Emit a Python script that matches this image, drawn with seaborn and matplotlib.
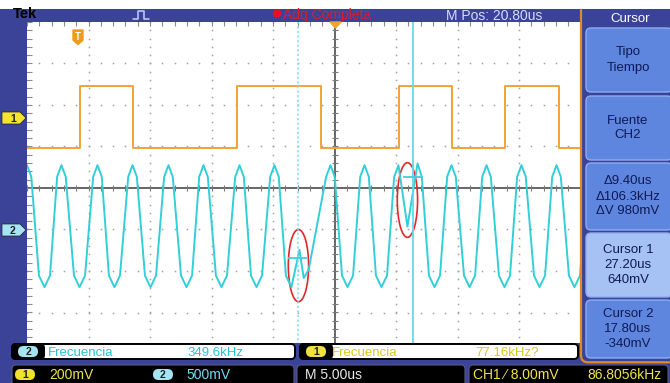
import numpy as np
import pandas as pd
import matplotlib
matplotlib.use("Agg")
import matplotlib.pyplot as plt
import seaborn as sns
from matplotlib.patches import Rectangle, FancyBboxPatch, Ellipse, Polygon, Circle

# ---------------- values ----------------
# CH2 (500 mV/div) trace, read point by point (time in us, volts)
ch2_time_us = [
    -4.20, -3.85,
    -3.23, -2.78, -2.33,
    -1.75, -1.40, -1.05,
    -0.38, 0.07, 0.52,
    1.18, 1.53, 1.88,
    2.46, 2.91, 3.36,
    4.03, 4.38, 4.73,
    5.39, 5.84, 6.29,
    6.95, 7.30, 7.65,
    8.32, 8.77, 9.22,
    9.80, 10.15, 10.50,
    11.16, 11.61, 12.06,
    12.73, 13.08, 13.43,
    14.01, 14.46, 14.91,
    15.57, 15.92, 16.27,
    16.85, 17.30, 17.95, 18.30, 18.70,
    20.12, 20.47, 20.82,
    21.41, 21.86, 22.31,
    22.89, 23.24, 23.59,
    24.17, 24.62, 25.07,
    25.65, 26.00, 26.73, 27.55, 27.90,
    28.48, 28.93, 29.38,
    29.96, 30.31, 30.66,
    31.33, 31.78, 32.23,
    32.81, 33.16, 33.51,
    34.17, 34.62, 35.07,
    35.65, 36.00, 36.35,
    37.02, 37.47, 37.92,
    38.50, 38.85, 39.20,
    39.86, 40.31, 40.76,
    41.35, 41.70, 42.05,
    42.65, 43.10, 43.55,
    44.15, 44.50, 44.85,
    45.80,
]
ch2_volts = [
    0.78, 0.64,
    -0.55, -0.69, -0.55,
    0.64, 0.78, 0.64,
    -0.55, -0.69, -0.55,
    0.64, 0.78, 0.64,
    -0.55, -0.69, -0.55,
    0.64, 0.78, 0.64,
    -0.55, -0.69, -0.55,
    0.64, 0.78, 0.64,
    -0.55, -0.69, -0.55,
    0.64, 0.78, 0.64,
    -0.55, -0.69, -0.55,
    0.64, 0.78, 0.64,
    -0.55, -0.69, -0.55,
    0.64, 0.78, 0.64,
    -0.55, -0.69, -0.24, -0.58, -0.48,
    0.64, 0.78, 0.64,
    -0.55, -0.69, -0.55,
    0.64, 0.78, 0.64,
    -0.55, -0.69, -0.55,
    0.64, 0.78, 0.04, 0.80, 0.64,
    -0.55, -0.69, -0.55,
    0.64, 0.78, 0.64,
    -0.55, -0.69, -0.55,
    0.64, 0.78, 0.64,
    -0.55, -0.69, -0.55,
    0.64, 0.78, 0.64,
    -0.55, -0.69, -0.55,
    0.64, 0.78, 0.64,
    -0.55, -0.69, -0.55,
    0.64, 0.78, 0.64,
    -0.55, -0.69, -0.55,
    0.64, 0.78, 0.64,
    -0.40,
]

# CH1 (200 mV/div) square wave: edge times (us) and level after each edge (mV)
ch1_time_us = [-4.20, 0.07, 4.38, 12.91, 19.74, 26.08, 30.39, 34.70, 39.09, 45.80]
ch1_mv = [-145, 154, -145, 154, -145, 154, -145, 154, -145, -145]

# cursors (CH2)
cursor_names = ["Cursor 1", "Cursor 2"]
cursor_time_us = [27.20, 17.80]
cursor_volts = [0.640, -0.340]

# readouts / labels
time_per_div_us = 5.0
m_pos_us = 20.80
ch1_scale_mv = 200
ch2_scale_mv = 500
ch1_offset_div = 1.69
ch2_offset_div = -1.01
meas_ch2 = "349.6kHz"
meas_ch1 = "77.16kHz?"
trig_text = "CH1 \u2044 8.00mV"
trig_freq = "86.8056kHz"
menu_header = "Cursor"
menu_items = [["Tipo", "Tiempo"], ["Fuente", "CH2"],
              ["\u03949.40us", "\u0394106.3kHz", "\u0394V 980mV"],
              ["Cursor 1", "27.20us", "640mV"], ["Cursor 2", "17.80us", "-340mV"]]

# ---------------- styling ----------------
sns.set_style("white")
plt.rcParams['font.family'] = ['Liberation Sans', 'DejaVu Sans']

W, H = 670, 383
fig = plt.figure(figsize=(W / 100, H / 100), dpi=100)
fig.patch.set_facecolor('white')

# graticule area in pixels: x 27..642, y 22..354
L, T, R, B = 27, 22, 642, 354
rect = [L / W, 1 - B / H, (R - L) / W, (B - T) / H]

BLUE = '#3b4398'
CYAN = '#33cfd8'
ORANGE = '#f2a333'
GRID = '#a0a0a0'

# --- graticule axes (divisions) ---
ax_g = fig.add_axes(rect)
ax_g.set_xlim(0, 10)
ax_g.set_ylim(-4, 4)
ax_g.axis('off')
fx = np.arange(0, 10.001, 0.2)
fy = np.arange(-4, 4.001, 0.2)
for gx in range(1, 10):
    if gx == 5:
        continue
    ax_g.plot(np.full_like(fy, gx), fy, ls='none', marker='s', ms=1.1, mew=0, color=GRID)
for gy in range(-3, 4):
    if gy == 0:
        continue
    ax_g.plot(fx, np.full_like(fx, gy), ls='none', marker='s', ms=1.1, mew=0, color=GRID)
ax_g.axvline(5, color='#5a5a5a', lw=1.3)
ax_g.axhline(0, color='#5a5a5a', lw=1.3)
ax_g.plot(np.full_like(fy, 5), fy, ls='none', marker='_', ms=5, mew=0.8, color='#7a7a7a')
ax_g.plot(fx, np.zeros_like(fx), ls='none', marker='|', ms=5, mew=0.8, color='#7a7a7a')
ax_g.plot(fx, np.full_like(fx, 3.97), ls='none', marker='|', ms=4, mew=0.8, color='#8a8a8a')
ax_g.plot(np.full_like(fy, 0.03), fy, ls='none', marker='_', ms=4, mew=0.8, color='#8a8a8a')

t0 = m_pos_us - 5 * time_per_div_us
t1 = m_pos_us + 5 * time_per_div_us

# --- CH1 axis ---
ax1 = fig.add_axes(rect)
ax1.patch.set_alpha(0)
df1 = pd.DataFrame({'t': ch1_time_us, 'v': ch1_mv})
sns.lineplot(data=df1, x='t', y='v', ax=ax1, estimator=None, sort=False,
             drawstyle='steps-post', color=ORANGE, lw=1.4)
ax1.set_xlim(t0, t1)
ax1.set_ylim((-4 - ch1_offset_div) * ch1_scale_mv, (4 - ch1_offset_div) * ch1_scale_mv)
ax1.axis('off')

# --- CH2 axis ---
ax2 = fig.add_axes(rect)
ax2.patch.set_alpha(0)
df2 = pd.DataFrame({'t': ch2_time_us, 'v': ch2_volts})
sns.lineplot(data=df2, x='t', y='v', ax=ax2, estimator=None, sort=False,
             color=CYAN, lw=1.4)
ax2.set_xlim(t0, t1)
s2 = ch2_scale_mv / 1000
ax2.set_ylim((-4 - ch2_offset_div) * s2, (4 - ch2_offset_div) * s2)
ax2.axis('off')

# cursors
ax2.axvline(cursor_time_us[0], color='#5fdcea', lw=1.3)
ax2.axvline(cursor_time_us[1], color='#7fe0ee', lw=1.1, ls=(0, (1.5, 1.5)))
for ct, cv in zip(cursor_time_us, cursor_volts):
    ax2.hlines(cv, ct - 0.8, ct + 0.8, color='#40d0dc', lw=1.3)
# red ellipses around the glitches
ax2.add_patch(Ellipse((17.87, -0.43), 1.65, 0.87, fill=False, ec='#e02828', lw=1.2))
ax2.add_patch(Ellipse((26.73, 0.36), 1.65, 0.90, fill=False, ec='#e02828', lw=1.2))

# --- overlay in pixel coordinates ---
ax_o = fig.add_axes([0, 0, 1, 1])
ax_o.set_zorder(10)
ax_o.patch.set_alpha(0)
ax_o.set_xlim(0, W)
ax_o.set_ylim(H, 0)
ax_o.axis('off')

# frame bars
ax_o.add_patch(Rectangle((0, 9), 581, 13, color=BLUE, lw=0))
ax_o.add_patch(Rectangle((0, 9), 27, 356, color=BLUE, lw=0))
ax_o.add_patch(Rectangle((0, 343), 670, 40, color=BLUE, lw=0))
ax_o.add_patch(Rectangle((581, 9), 89, 354, color=BLUE, lw=0))

ax_o.text(13, 14.5, "Tek", fontsize=10.5, fontweight='bold', color='black', va='center', ha='left')
ax_o.plot([133, 138, 138, 144, 144, 149], [19, 19, 11, 11, 19, 19], color='#c6ceff', lw=1.1)
ax_o.add_patch(Circle((277, 13.5), 3.6, color='#e8101e'))
ax_o.text(283, 15.5, "Adq Completa", fontsize=10, color='#e01a2a', va='center', ha='left')
ax_o.text(446, 15.5, "M Pos: %.2fus" % m_pos_us, fontsize=10, color='#d6dafc', va='center', ha='left')

# trigger markers
ax_o.add_patch(Polygon([(330, 22), (341, 22), (335.5, 28)], color=ORANGE))
ax_o.add_patch(Polygon([(73, 30), (83, 30), (83, 40), (78, 44.5), (73, 40)], color='#f09a1a'))
ax_o.text(78, 36.5, "T", fontsize=7, color='white', fontweight='bold', ha='center', va='center')

# channel markers on left border
for yc, col, lab in [(118, '#f4e430', '1'), (230, '#a6e4f4', '2')]:
    ax_o.add_patch(Polygon([(2, yc - 6), (20, yc - 6), (26, yc), (20, yc + 6), (2, yc + 6)],
                           closed=True, fc=col, ec='#202020', lw=0.5))
    ax_o.text(13, yc + 0.5, lab, fontsize=7.5, fontweight='bold', color='#202020', ha='center', va='center')

# right menu
ax_o.plot([581, 581], [10, 356], color='#e08a24', lw=1.6)
ax_o.plot([581, 581.8, 584, 587, 670], [356, 359.5, 361.5, 362.3, 362.3], color='#e08a24', lw=1.6)
ax_o.text(630, 18.5, menu_header, fontsize=9.5, color='white', ha='center', va='center')
btn_y = [(28, 92), (96, 160), (163, 230), (233, 297), (300, 358)]
for i, ((y0, y1), lines) in enumerate(zip(btn_y, menu_items)):
    fc = '#a6c1f4' if i == 3 else '#5f86de'
    ax_o.add_patch(FancyBboxPatch((586, y0), 86, y1 - y0,
                                  boxstyle='round,pad=0,rounding_size=5',
                                  fc=fc, ec='#8eacf0', lw=1.0))
    n = len(lines)
    yc = (y0 + y1) / 2
    for k, ln in enumerate(lines):
        ax_o.text(628, yc + (k - (n - 1) / 2) * 15, ln, fontsize=9.5, color='#0f1a55',
                  ha='center', va='center')

# measurement readout row
for x0, x1 in [(12, 295), (300, 578)]:
    ax_o.add_patch(FancyBboxPatch((x0, 344), x1 - x0, 15,
                                  boxstyle='round,pad=0,rounding_size=4',
                                  fc='white', ec='black', lw=1.4))
    ax_o.add_patch(FancyBboxPatch((x0, 344), 32, 15,
                                  boxstyle='round,pad=0,rounding_size=4',
                                  fc='black', ec='black', lw=1.4))


def badge(xc, yc, col, lab):
    ax_o.add_patch(FancyBboxPatch((xc - 10, yc - 5.5), 20, 11,
                                  boxstyle='round,pad=0,rounding_size=5.5',
                                  fc=col, ec='none'))
    ax_o.text(xc, yc + 0.5, lab, fontsize=7.5, fontweight='bold', color='#202020',
              ha='center', va='center')


badge(28, 351.5, '#a6e4f4', '2')
ax_o.text(48, 352.5, "Frecuencia", fontsize=9.5, color='#22c4d4', va='center', ha='left')
ax_o.text(187, 352.5, meas_ch2, fontsize=9.5, color='#22c4d4', va='center', ha='left')
badge(316, 351.5, '#f0e040', '1')
ax_o.text(332, 352.5, "Frecuencia", fontsize=9.5, color='#d8c81a', va='center', ha='left')
ax_o.text(475, 352.5, meas_ch1, fontsize=9.5, color='#d8c81a', va='center', ha='left')

# status bar
for x0, x1 in [(12, 294), (297, 465), (469, 668)]:
    ax_o.add_patch(FancyBboxPatch((x0, 365), x1 - x0, 22,
                                  boxstyle='round,pad=0,rounding_size=4',
                                  fc='black', ec='#555a80', lw=0.8))
badge(25, 374.5, '#f0e030', '1')
ax_o.text(49, 375, "%dmV" % ch1_scale_mv, fontsize=10, color='#f0e44a', va='center', ha='left')
badge(163, 374.5, '#a6e4f4', '2')
ax_o.text(186, 375, "%dmV" % ch2_scale_mv, fontsize=10, color='#72dcf0', va='center', ha='left')
ax_o.text(305, 375, "M %.2fus" % time_per_div_us, fontsize=10, color='#e8e8e8', va='center', ha='left')
ax_o.text(473, 375, trig_text, fontsize=10, color='#f0e44a', va='center', ha='left')
ax_o.text(587, 375, trig_freq, fontsize=10, color='#f0e44a', va='center', ha='left')

fig.savefig('out.png', dpi=100)
